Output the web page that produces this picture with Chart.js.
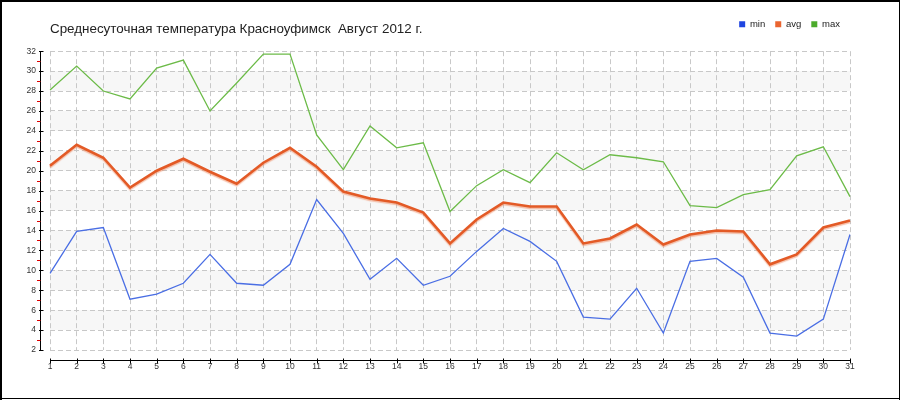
<!DOCTYPE html>
<html><head><meta charset="utf-8">
<script src="https://cdn.jsdelivr.net/npm/chart.js@4/dist/chart.umd.min.js"></script>
<style>html,body{margin:0;padding:0;background:#fff}canvas{display:block}</style>
</head><body>
<canvas id="c" width="900" height="400"></canvas>
<script>
const TITLE = 'Среднесуточная температура Красноуфимск  Август 2012 г.';
const DAYS = [1,2,3,4,5,6,7,8,9,10,11,12,13,14,15,16,17,18,19,20,21,22,23,24,25,26,27,28,29,30,31];
const SERIES_NAMES = ['min', 'avg', 'max'];
const MIN_T = [9.7,13.9,14.3,7.1,7.6,8.7,11.6,8.7,8.5,10.6,17.1,13.7,9.1,11.2,8.5,9.4,11.9,14.2,12.9,10.9,5.3,5.1,8.2,3.7,10.9,11.2,9.3,3.7,3.4,5.1,13.6];
const AVG_T = [20.5,22.6,21.3,18.3,20.0,21.2,19.9,18.7,20.8,22.3,20.4,17.9,17.2,16.8,15.8,12.7,15.1,16.8,16.4,16.4,12.7,13.2,14.6,12.6,13.6,14.0,13.9,10.6,11.6,14.3,15.0];
const MAX_T = [28.1,30.5,28.0,27.2,30.3,31.1,26.0,28.8,31.7,31.7,23.6,20.1,24.5,22.3,22.8,15.9,18.5,20.1,18.8,21.8,20.1,21.6,21.3,20.9,16.5,16.3,17.6,18.1,21.5,22.4,17.4];
const Y_MIN = 2, Y_MAX = 32, Y_STEP = 2;

const LINE_COLORS = ['#4a6ee4', '#e35a26', '#6cbb48'];
const LEGEND_COLORS = ['#1f45e0', '#ea6530', '#4cab2c'];
const FONT = 'Liberation Sans, Arial, sans-serif';

const decor = {
  id: 'decor',
  afterLayout(chart) {
    if (chart.titleBlock) chart.titleBlock.left = chart.chartArea.left;
  },
  beforeDraw(chart) {
    const {ctx, chartArea: a, scales: {y}} = chart;
    ctx.save();
    ctx.fillStyle = '#fff';
    ctx.fillRect(0, 0, chart.width, chart.height);
    ctx.fillStyle = '#f7f7f7';
    for (let v = Y_MIN + 2; v < Y_MAX; v += 4) {
      const t = y.getPixelForValue(v + 2), b = y.getPixelForValue(v);
      ctx.fillRect(a.left, t, a.right - a.left, b - t);
    }
    ctx.restore();
  },
  beforeDatasetDraw(chart, args) {
    if (args.index === 1) {
      const c = chart.ctx;
      c.save();
      c.shadowColor = 'rgba(238,140,100,0.55)';
      c.shadowOffsetY = 1.5;
      c.shadowBlur = 1;
    }
  },
  afterDatasetDraw(chart, args) {
    if (args.index === 1) chart.ctx.restore();
  },
  afterDraw(chart) {
    const {ctx, chartArea: a, scales: {x, y}} = chart;
    ctx.save();
    ctx.lineWidth = 1;
    // y axis
    const ax = a.left - 10 + 0.5;
    ctx.strokeStyle = '#000';
    ctx.beginPath();
    ctx.moveTo(ax, y.getPixelForValue(Y_MAX));
    ctx.lineTo(ax, y.getPixelForValue(Y_MIN) + 0.5);
    ctx.stroke();
    for (let v = Y_MIN; v <= Y_MAX; v += 1) {
      const py = Math.round(y.getPixelForValue(v)) + 0.5;
      ctx.beginPath();
      if ((v - Y_MIN) % Y_STEP === 0) {
        ctx.strokeStyle = '#000';
        ctx.moveTo(ax - 1.5, py); ctx.lineTo(ax + 3, py);
      } else {
        ctx.strokeStyle = '#e00000';
        ctx.moveTo(ax - 3.5, py); ctx.lineTo(ax, py);
      }
      ctx.stroke();
    }
    // x axis
    const ay = a.bottom + 10 + 0.5;
    ctx.strokeStyle = '#000';
    ctx.beginPath();
    ctx.moveTo(a.left, ay); ctx.lineTo(a.right + 0.5, ay);
    ctx.stroke();
    DAYS.forEach((d, i) => {
      const px = Math.round(x.getPixelForValue(i)) + 0.5;
      ctx.beginPath();
      ctx.moveTo(px, ay - 2); ctx.lineTo(px, ay + 3);
      ctx.stroke();
    });
    // frame
    ctx.fillStyle = '#000';
    ctx.fillRect(0, 0, chart.width, 2);
    ctx.fillRect(0, 0, 2, chart.height);
    ctx.fillRect(chart.width - 1, 0, 1, chart.height);
    ctx.fillRect(0, chart.height - 2, chart.width, 1);
    ctx.restore();
  }
};

const series = [MIN_T, AVG_T, MAX_T];
new Chart(document.getElementById('c'), {
  type: 'line',
  data: {
    labels: DAYS,
    datasets: series.map((vals, i) => ({
      label: SERIES_NAMES[i],
      data: vals,
      borderColor: LINE_COLORS[i],
      backgroundColor: LEGEND_COLORS[i],
      borderWidth: i === 1 ? 2.6 : 1.3,
      pointRadius: 0,
      tension: 0,
      fill: false
    }))
  },
  options: {
    responsive: false,
    animation: false,
    devicePixelRatio: 1,
    layout: {padding: {left: 0, right: 50, top: 9.5, bottom: 10}},
    plugins: {
      legend: {
        position: 'top', align: 'end',
        labels: {
          boxWidth: 6, boxHeight: 6, padding: 10,
          font: {family: FONT, size: 9.5}, color: '#222',
          generateLabels: (chart) => SERIES_NAMES.map((n, i) => ({
            text: n, fillStyle: LEGEND_COLORS[i], strokeStyle: LEGEND_COLORS[i],
            lineWidth: 0, hidden: false, datasetIndex: i, fontColor: '#222'
          }))
        }
      },
      title: {
        display: true, text: TITLE, align: 'start', weight: 500,
        font: {family: FONT, size: 13.4, weight: 'normal'}, color: '#222',
        padding: {top: -17.8, bottom: 13.9}
      },
      tooltip: {enabled: false}
    },
    scales: {
      x: {
        type: 'category', offset: false,
        grid: {color: '#c8c8c8', drawTicks: false, offset: false},
        border: {display: false, dash: [5, 3]},
        ticks: {padding: 12, font: {family: FONT, size: 8.5}, color: '#333', maxRotation: 0, autoSkip: false},
        afterFit(s) { s.height = 40; }
      },
      y: {
        min: Y_MIN, max: Y_MAX,
        grid: {color: '#c8c8c8', drawTicks: false},
        border: {display: false, dash: [5, 3]},
        ticks: {stepSize: Y_STEP, padding: 14, font: {family: FONT, size: 8.5}, color: '#333'},
        afterFit(s) { s.width = 50; }
      }
    }
  },
  plugins: [decor]
});
</script>
</body></html>
